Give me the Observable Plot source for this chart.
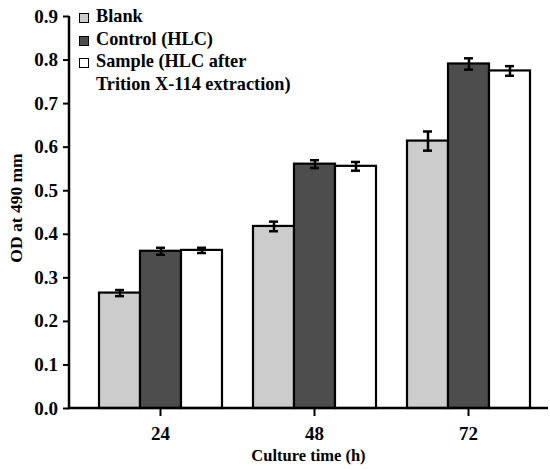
<!DOCTYPE html>
<html>
<head>
<meta charset="utf-8">
<script src="https://cdn.jsdelivr.net/npm/d3@7"></script>
<script src="https://cdn.jsdelivr.net/npm/@observablehq/plot@0.6"></script>
<style>
  html, body { margin: 0; padding: 0; background: #fff; }
  #wrap { position: relative; width: 550px; height: 470px; }
  #legend { position: absolute; left: 79px; top: 5px; font-family: "Liberation Serif", serif; font-weight: bold; font-size: 18.3px; line-height: 22.5px; color: #000; }
  #legend .row { display: flex; align-items: flex-start; }
  #legend .sw { width: 8px; height: 8px; border: 1.5px solid #000; margin-top: 8px; margin-right: 7px; flex: none; }
</style>
</head>
<body>
<div id="wrap"><div id="legend"></div></div>
<script>
const times = ["24", "48", "72"];
const series = ["Blank", "Control (HLC)", "Sample (HLC after Trition X-114 extraction)"];
const legendLines = [["Blank"], ["Control (HLC)"], ["Sample (HLC after", "Trition X-114 extraction)"]];
const colors = ["#cccccc", "#4d4d4d", "#ffffff"];
const blank = [0.265, 0.418, 0.614];
const control = [0.361, 0.561, 0.791];
const sample = [0.363, 0.556, 0.775];
const blankErr = [0.007, 0.011, 0.022];
const controlErr = [0.008, 0.009, 0.013];
const sampleErr = [0.006, 0.010, 0.011];
const yTicks = [0, 0.1, 0.2, 0.3, 0.4, 0.5, 0.6, 0.7, 0.8, 0.9];

const values = [blank, control, sample];
const errs = [blankErr, controlErr, sampleErr];
const data = [];
times.forEach((t, i) => series.forEach((s, j) => {
  data.push({time: t, series: s, value: values[j][i], err: errs[j][i]});
}));

const FRAME_LEFT = 69;
const FX_RANGE = [82, 547];

const plot = Plot.plot({
  width: 550,
  height: 470,
  marginLeft: FRAME_LEFT,
  marginRight: 2,
  marginTop: 16,
  marginBottom: 62,
  style: {fontFamily: "Liberation Serif, serif", fontSize: "19px", fontWeight: "bold", background: "white", color: "black"},
  facet: {data, x: "time"},
  fx: {domain: times, range: FX_RANGE, paddingInner: 0.194, paddingOuter: 0.1, label: null, tickSize: 8, tickPadding: 10},
  x: {domain: series, padding: 0, axis: null},
  y: {domain: [0, 0.9], axis: null},
  color: {domain: series, range: colors},
  marks: [
    Plot.barY(data, {x: "series", y: "value", fill: "series", stroke: "black", strokeWidth: 2.2}),
    Plot.ruleX(data, {x: "series", y1: d => d.value - d.err, y2: d => d.value + d.err, stroke: "black", strokeWidth: 2.5}),
    Plot.tickY(data, {x: "series", y: d => d.value + d.err, stroke: "black", strokeWidth: 2.5, insetLeft: 16, insetRight: 16}),
    Plot.tickY(data, {x: "series", y: d => d.value - d.err, stroke: "black", strokeWidth: 2.5, insetLeft: 16, insetRight: 16})
  ]
});

const wrap = document.getElementById("wrap");
wrap.insertBefore(plot, wrap.firstChild);
const svg = d3.select(plot.tagName.toLowerCase() === "svg" ? plot : plot.querySelector("svg"));

// y axis drawn from Plot's own y scale at the frame's left edge
const ys = plot.scale("y");
const yf = d3.scaleLinear(ys.domain, ys.range);
const yAxis = svg.append("g")
  .attr("transform", `translate(${FRAME_LEFT},0)`)
  .call(d3.axisLeft(yf).tickValues(yTicks).tickFormat(d3.format(".1f")).tickSize(6).tickPadding(5))
  .attr("font-family", "Liberation Serif, serif").attr("font-size", 19).attr("font-weight", "bold");
yAxis.select(".domain").remove();
yAxis.selectAll("line").attr("stroke-width", 2);

svg.append("line").attr("x1", FRAME_LEFT).attr("x2", FRAME_LEFT).attr("y1", yf(0)).attr("y2", yf(0.9)).attr("stroke", "black").attr("stroke-width", 2.5);
svg.append("line").attr("x1", FRAME_LEFT - 1).attr("x2", 548).attr("y1", yf(0)).attr("y2", yf(0)).attr("stroke", "black").attr("stroke-width", 2.5);
svg.selectAll("g[aria-label='fx-axis tick'] path, g[aria-label='fx-axis tick'] line").attr("stroke-width", 2);

// axis titles
svg.append("text").attr("x", (FRAME_LEFT + 548) / 2).attr("y", 461).attr("text-anchor", "middle")
  .attr("font-family", "Liberation Serif, serif").attr("font-size", 16.5).attr("font-weight", "bold").text("Culture time (h)");
svg.append("text").attr("transform", `translate(22,${(yf(0) + yf(0.9)) / 2 - 4}) rotate(-90)`).attr("text-anchor", "middle")
  .attr("font-family", "Liberation Serif, serif").attr("font-size", 17.5).attr("font-weight", "bold").text("OD at 490 mm");

const legend = document.getElementById("legend");
legendLines.forEach((lines, i) => {
  const row = document.createElement("div");
  row.className = "row";
  const sw = document.createElement("div");
  sw.className = "sw";
  sw.style.background = colors[i];
  const txt = document.createElement("div");
  txt.innerHTML = lines.join("<br>");
  row.appendChild(sw);
  row.appendChild(txt);
  legend.appendChild(row);
});
</script>
</body>
</html>
